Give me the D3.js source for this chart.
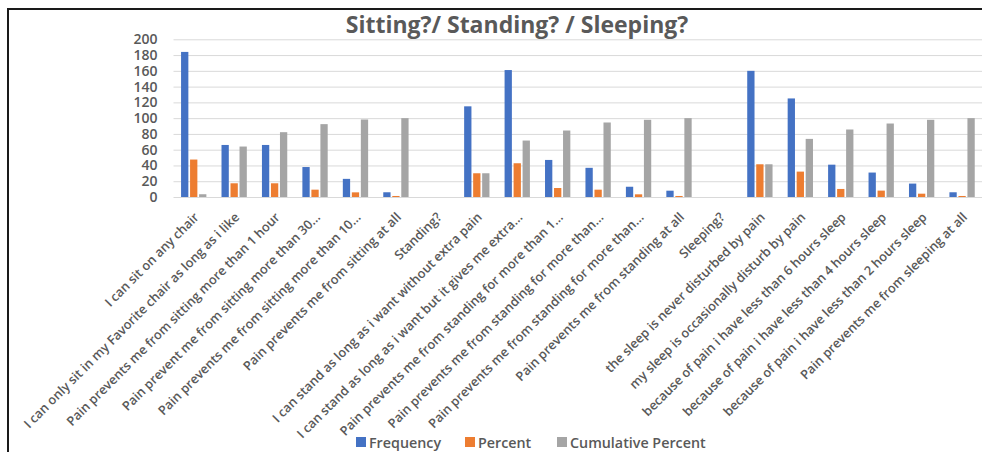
<!DOCTYPE html>
<html>
<head>
<meta charset="utf-8">
<script src="https://cdn.jsdelivr.net/npm/d3@7"></script>
<style>
  html, body { margin: 0; padding: 0; background: #ffffff; }
  svg { display: block; }
  text { font-family: "Open Sans", "Liberation Sans", sans-serif; fill: #595959; }
</style>
</head>
<body>
<svg id="chart" width="982" height="455"></svg>
<script>
// Survey answers for the three activity questions
const categories = [
  "I can sit on any chair",
  "I can only sit in my Favorite chair as long as i like",
  "Pain prevents me from sitting more than 1 hour",
  "Pain prevent me from sitting more than 30...",
  "Pain prevents me from sitting more than 10...",
  "Pain prevents me from sitting at all",
  "Standing?",
  "I can stand as long as i want without extra pain",
  "I can stand as long as i want but it gives me extra...",
  "Pain prevents me from standing for more than 1...",
  "Pain prevents me from standing for more than...",
  "Pain prevents me from standing for more than...",
  "Pain prevents me from standing at all",
  "Sleeping?",
  "the sleep is never disturbed by pain",
  "my sleep is occasionally disturb by pain",
  "because of pain i have less than 6 hours sleep",
  "because of pain i have less than 4 hours sleep",
  "because of pain i have less than 2 hours sleep",
  "Pain prevents me from sleeping at all"
];

const frequency         = [184, 66, 66, 38, 23, 6, null, 115, 161, 47, 37, 13, 8, null, 160, 125, 41, 31, 17, 6];
const percent           = [47.5, 17.4, 17.4, 9.3, 5.9, 1.3, null, 30.1, 42.8, 11.4, 9.3, 3.4, 1.3, null, 41.5, 32.2, 10.2, 8.1, 4.2, 1.3];
const cumulativePercent = [3.5, 64, 82.2, 92.4, 98.3, 100, null, 30.1, 71.6, 84.3, 94.5, 97.9, 100, null, 41.5, 73.7, 85.6, 93.2, 97.9, 100];

const seriesNames  = ["Frequency", "Percent", "Cumulative Percent"];
const seriesColors = ["#4472C4", "#ED7D31", "#A5A5A5"];
const yTicks = [0, 20, 40, 60, 80, 100, 120, 140, 160, 180, 200];

const seriesValues = [frequency, percent, cumulativePercent];
const rows = categories.map((c, i) => ({
  key: i,
  label: c,
  values: seriesNames.map((s, k) => ({ series: s, value: seriesValues[k][i] }))
}));

const svg = d3.select("#chart");

// outer frame (top and left edges)
svg.append("line").attr("x1", 7).attr("x2", 982).attr("y1", 9).attr("y2", 9)
  .attr("stroke", "#1a1a1a").attr("stroke-width", 2);
svg.append("line").attr("x1", 8).attr("x2", 8).attr("y1", 8).attr("y2", 452)
  .attr("stroke", "#1a1a1a").attr("stroke-width", 2);

const plot = { left: 173.5, right: 982.3, top: 39.3, bottom: 197 };

const x0 = d3.scaleBand()
  .domain(rows.map(r => r.key))
  .range([plot.left, plot.right])
  .paddingInner(0.374)
  .paddingOuter(0.187);

const x1 = d3.scaleBand()
  .domain(seriesNames)
  .range([0, x0.bandwidth()])
  .paddingInner(0.19);

const y = d3.scaleLinear().domain([0, 200]).range([plot.bottom, plot.top]);

const color = d3.scaleOrdinal().domain(seriesNames).range(seriesColors);

// gridlines and value axis
const yAxis = d3.axisLeft(y).tickValues(yTicks).tickSize(-(plot.right - plot.left)).tickPadding(16);
const gy = svg.append("g").attr("transform", `translate(${plot.left},0)`).call(yAxis);
gy.select(".domain").remove();
gy.selectAll(".tick line").attr("stroke", "#D9D9D9").attr("stroke-width", 1);
gy.selectAll(".tick text")
  .attr("fill", "#595959")
  .style("font-size", "14px")
  .style("font-weight", "600");

// bars
const groups = svg.append("g").selectAll("g")
  .data(rows)
  .join("g")
  .attr("transform", d => `translate(${x0(d.key)},0)`);

groups.selectAll("rect")
  .data(d => d.values.filter(v => v.value != null))
  .join("rect")
  .attr("x", d => x1(d.series))
  .attr("width", x1.bandwidth())
  .attr("y", d => y(d.value))
  .attr("height", d => y(0) - y(d.value))
  .attr("fill", d => color(d.series));

// category axis with rotated labels
const xAxis = d3.axisBottom(x0).tickSize(0).tickFormat(i => categories[i]);
const gx = svg.append("g").attr("transform", `translate(0,${plot.bottom})`).call(xAxis);
gx.select(".domain").remove();
gx.selectAll(".tick text")
  .attr("text-anchor", "end")
  .attr("dy", null)
  .attr("y", null)
  .attr("transform", "translate(6,21) rotate(-45)")
  .attr("fill", "#595959")
  .style("font-size", "12.8px")
  .style("font-weight", "600");

// title
svg.append("text")
  .attr("x", 517).attr("y", 33)
  .attr("text-anchor", "middle")
  .style("font-size", "23px")
  .style("font-weight", "700")
  .text("Sitting?/ Standing? / Sleeping?");

// legend
const legendX = [356, 465, 557];
const legend = svg.append("g").selectAll("g")
  .data(seriesNames)
  .join("g")
  .attr("transform", (d, i) => `translate(${legendX[i]},437)`);
legend.append("rect").attr("width", 10).attr("height", 10).attr("fill", d => color(d));
legend.append("text")
  .attr("x", 13).attr("y", 10.5)
  .style("font-size", "14.3px")
  .style("font-weight", "600")
  .text(d => d);
</script>
</body>
</html>
